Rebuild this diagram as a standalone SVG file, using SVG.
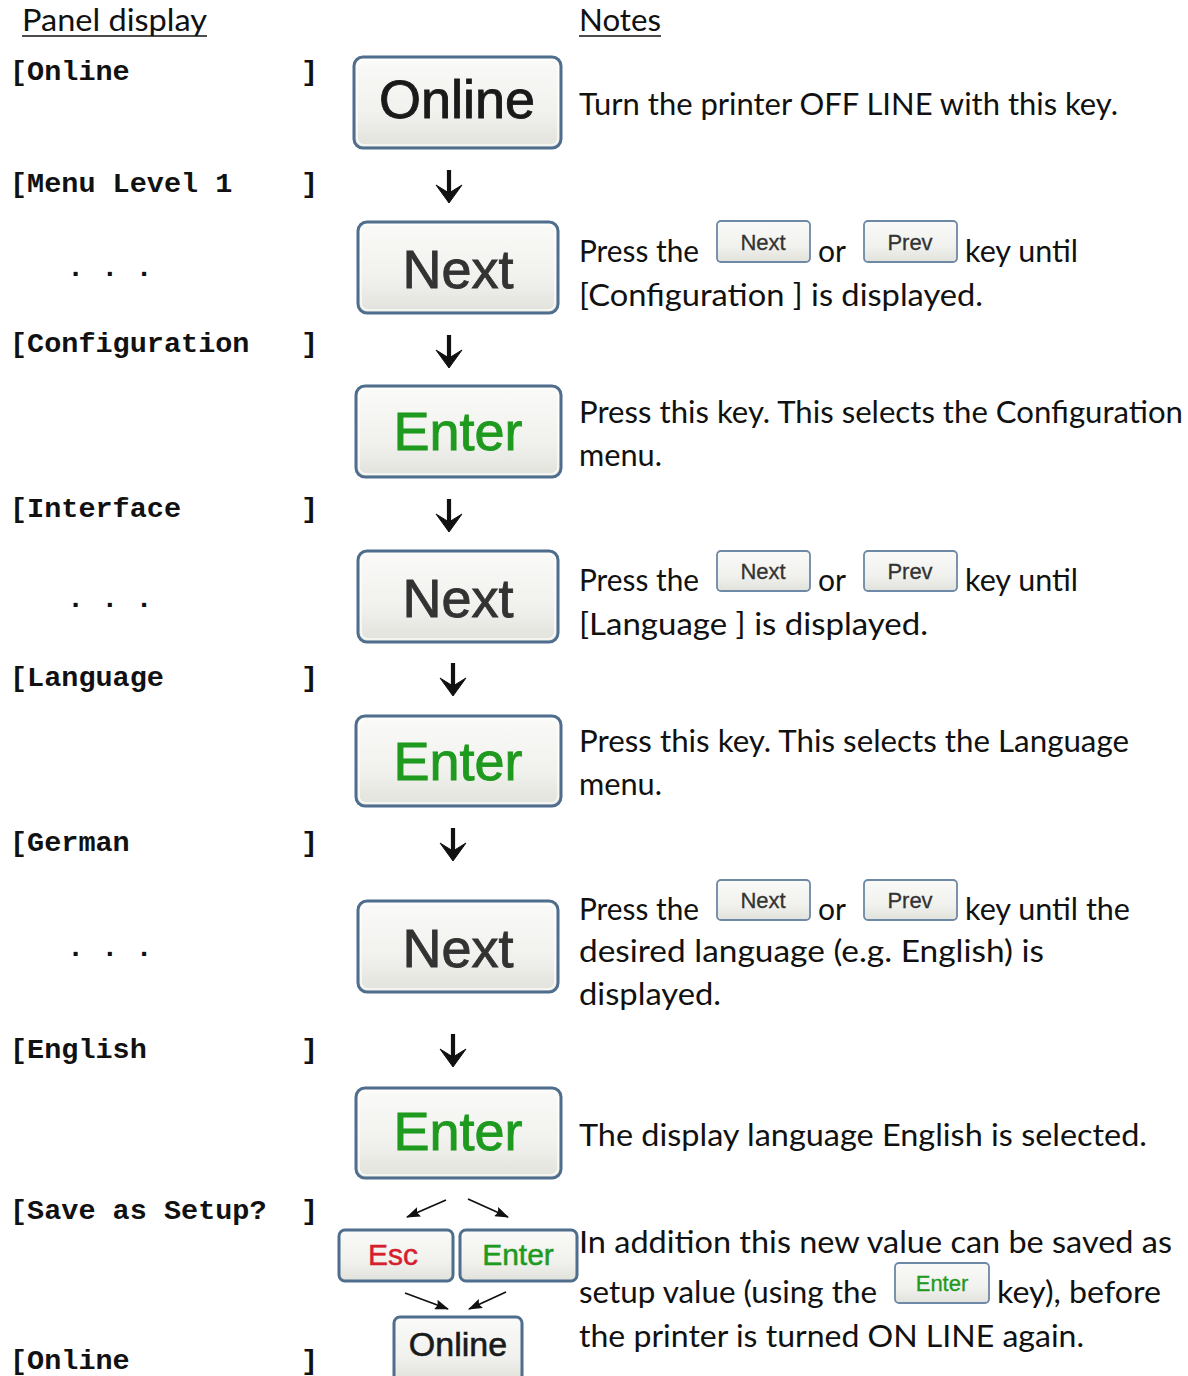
<svg xmlns="http://www.w3.org/2000/svg" xmlns:xlink="http://www.w3.org/1999/xlink" width="1188" height="1376" viewBox="0 0 1188 1376">
<style>
.mono{font-family:"Liberation Mono","Courier New",monospace;font-weight:bold;font-size:28.5px;fill:#111}
.note{font-family:Lato,"Open Sans","Liberation Sans",sans-serif;font-size:31px;fill:#111}
.head{font-family:Lato,"Open Sans","Liberation Sans",sans-serif;font-size:30px;fill:#111}
.btn{fill:url(#bg);stroke:#4f6d8c;stroke-width:3}
.btnin{fill:none;stroke:#ffffff;stroke-width:1.5;opacity:0.8}
.bt{font-family:"Liberation Sans",Arial,sans-serif;text-anchor:middle}
.big{font-size:54px;stroke-width:0.9}
.blk{fill:#1a1a1a;stroke:#1a1a1a}
.gry{fill:#333333;stroke:#333333}
.grn{fill:#1e9a1e;stroke:#1e9a1e}
.red{fill:#d61f2e;stroke:#d61f2e}
.sk{fill:url(#bg);stroke:#6d89a6;stroke-width:1.8}
.skt{font-size:22px;stroke-width:0.3}
.diag{stroke:#111;stroke-width:1.8;fill:none;marker-end:url(#ah)}
</style>
<defs>
<linearGradient id="bg" x1="0" y1="0" x2="0" y2="1">
<stop offset="0" stop-color="#fafaf8"/>
<stop offset="0.6" stop-color="#f1f1ee"/>
<stop offset="1" stop-color="#e2e2dc"/>
</linearGradient>
<marker id="ah" viewBox="0 0 14 10" refX="13" refY="5" markerWidth="14" markerHeight="10" orient="auto" markerUnits="userSpaceOnUse">
<path d="M0,0 L14,5 L0,10 L2,5 Z" fill="#111"/>
</marker>
<g id="down">
<line x1="0" y1="0" x2="0" y2="28" stroke="#111" stroke-width="4.2"/>
<path d="M-13,15 L0,33 L13,15 L0,23 Z" fill="#111" stroke="#111" stroke-width="1" stroke-linejoin="round"/>
</g>
</defs>
<rect width="1188" height="1376" fill="#ffffff"/>

<g id="headers">
<text class="head" x="22" y="31" textLength="185" lengthAdjust="spacingAndGlyphs">Panel display</text>
<line x1="22" y1="36" x2="207" y2="36" stroke="#111" stroke-width="1.6"/>
<text class="head" x="579" y="31" textLength="82" lengthAdjust="spacingAndGlyphs">Notes</text>
<line x1="579" y1="36" x2="661" y2="36" stroke="#111" stroke-width="1.6"/>
</g>

<g id="panel-display">
<text class="mono" x="10" y="80">[Online<tspan x="301">]</tspan></text>
<text class="mono" x="10" y="192">[Menu Level 1<tspan x="301">]</tspan></text>
<text class="mono" x="67" y="276">. . .</text>
<text class="mono" x="10" y="352">[Configuration<tspan x="301">]</tspan></text>
<text class="mono" x="10" y="517">[Interface<tspan x="301">]</tspan></text>
<text class="mono" x="67" y="607">. . .</text>
<text class="mono" x="10" y="686">[Language<tspan x="301">]</tspan></text>
<text class="mono" x="10" y="851">[German<tspan x="301">]</tspan></text>
<text class="mono" x="67" y="956">. . .</text>
<text class="mono" x="10" y="1058">[English<tspan x="301">]</tspan></text>
<text class="mono" x="10" y="1219">[Save as Setup?<tspan x="301">]</tspan></text>
<text class="mono" x="10" y="1369">[Online<tspan x="301">]</tspan></text>
</g>

<g id="key-online-1">
<rect class="btn" x="354" y="57" width="207" height="91" rx="9"/>
<rect class="btnin" x="357" y="60" width="201" height="85" rx="7"/>
<text class="bt big blk" x="457" y="118">Online</text>
</g>
<g id="key-next-1">
<rect class="btn" x="358" y="222" width="200" height="91" rx="9"/>
<rect class="btnin" x="361" y="225" width="194" height="85" rx="7"/>
<text class="bt big gry" x="458" y="288">Next</text>
</g>
<g id="key-enter-1">
<rect class="btn" x="356" y="386" width="205" height="91" rx="9"/>
<rect class="btnin" x="359" y="389" width="199" height="85" rx="7"/>
<text class="bt big grn" x="458" y="450">Enter</text>
</g>
<g id="key-next-2">
<rect class="btn" x="358" y="551" width="200" height="91" rx="9"/>
<rect class="btnin" x="361" y="554" width="194" height="85" rx="7"/>
<text class="bt big gry" x="458" y="617">Next</text>
</g>
<g id="key-enter-2">
<rect class="btn" x="356" y="716" width="205" height="90" rx="9"/>
<rect class="btnin" x="359" y="719" width="199" height="84" rx="7"/>
<text class="bt big grn" x="458" y="780">Enter</text>
</g>
<g id="key-next-3">
<rect class="btn" x="358" y="901" width="200" height="91" rx="9"/>
<rect class="btnin" x="361" y="904" width="194" height="85" rx="7"/>
<text class="bt big gry" x="458" y="967">Next</text>
</g>
<g id="key-enter-3">
<rect class="btn" x="356" y="1088" width="205" height="90" rx="9"/>
<rect class="btnin" x="359" y="1091" width="199" height="84" rx="7"/>
<text class="bt big grn" x="458" y="1150">Enter</text>
</g>
<g id="key-esc">
<rect class="btn" x="339" y="1230" width="114" height="51" rx="6" stroke-width="2.2"/>
<text class="bt red" x="393" y="1265" font-size="30" stroke-width="0.5">Esc</text>
</g>
<g id="key-enter-4">
<rect class="btn" x="460" y="1230" width="117" height="51" rx="6" stroke-width="2.2"/>
<text class="bt grn" x="518" y="1265" font-size="30" stroke-width="0.5">Enter</text>
</g>
<g id="key-online-2">
<rect class="btn" x="394" y="1317" width="128" height="64" rx="6" stroke-width="2.2"/>
<text class="bt blk" x="458" y="1356" font-size="34" stroke-width="0.6">Online</text>
</g>

<g id="connectors">
<use xlink:href="#down" href="#down" x="449" y="170"/>
<use xlink:href="#down" href="#down" x="449" y="335"/>
<use xlink:href="#down" href="#down" x="449" y="499"/>
<use xlink:href="#down" href="#down" x="453" y="663"/>
<use xlink:href="#down" href="#down" x="453" y="828"/>
<use xlink:href="#down" href="#down" x="453" y="1034"/>
<line class="diag" x1="446" y1="1200" x2="407" y2="1217"/>
<line class="diag" x1="468" y1="1199" x2="508" y2="1217"/>
<line class="diag" x1="405" y1="1293" x2="448" y2="1309"/>
<line class="diag" x1="506" y1="1292" x2="469" y2="1309"/>
</g>

<g id="notes">
<text class="note" x="579" y="115" textLength="539" lengthAdjust="spacingAndGlyphs">Turn the printer OFF LINE with this key.</text>

<text class="note" x="579" y="262" textLength="120" lengthAdjust="spacingAndGlyphs">Press the</text>
<text class="note" x="818" y="262" textLength="28" lengthAdjust="spacingAndGlyphs">or</text>
<text class="note" x="965" y="262" textLength="113" lengthAdjust="spacingAndGlyphs">key until</text>
<text class="note" x="579" y="306" textLength="404" lengthAdjust="spacingAndGlyphs">[Configuration ] is displayed.</text>

<text class="note" x="579" y="423" textLength="604" lengthAdjust="spacingAndGlyphs">Press this key. This selects the Configuration</text>
<text class="note" x="579" y="466" textLength="83" lengthAdjust="spacingAndGlyphs">menu.</text>

<text class="note" x="579" y="591" textLength="120" lengthAdjust="spacingAndGlyphs">Press the</text>
<text class="note" x="818" y="591" textLength="28" lengthAdjust="spacingAndGlyphs">or</text>
<text class="note" x="965" y="591" textLength="113" lengthAdjust="spacingAndGlyphs">key until</text>
<text class="note" x="579" y="635" textLength="349" lengthAdjust="spacingAndGlyphs">[Language ] is displayed.</text>

<text class="note" x="579" y="752" textLength="550" lengthAdjust="spacingAndGlyphs">Press this key. This selects the Language</text>
<text class="note" x="579" y="795" textLength="83" lengthAdjust="spacingAndGlyphs">menu.</text>

<text class="note" x="579" y="920" textLength="120" lengthAdjust="spacingAndGlyphs">Press the</text>
<text class="note" x="818" y="920" textLength="28" lengthAdjust="spacingAndGlyphs">or</text>
<text class="note" x="965" y="920" textLength="165" lengthAdjust="spacingAndGlyphs">key until the</text>
<text class="note" x="579" y="962" textLength="465" lengthAdjust="spacingAndGlyphs">desired language (e.g. English) is</text>
<text class="note" x="579" y="1005" textLength="142" lengthAdjust="spacingAndGlyphs">displayed.</text>

<text class="note" x="579" y="1146" textLength="568" lengthAdjust="spacingAndGlyphs">The display language English is selected.</text>

<text class="note" x="579" y="1253" textLength="593" lengthAdjust="spacingAndGlyphs">In addition this new value can be saved as</text>
<text class="note" x="579" y="1303" textLength="298" lengthAdjust="spacingAndGlyphs">setup value (using the</text>
<text class="note" x="997" y="1303" textLength="164" lengthAdjust="spacingAndGlyphs">key), before</text>
<text class="note" x="579" y="1347" textLength="505" lengthAdjust="spacingAndGlyphs">the printer is turned ON LINE again.</text>
</g>

<g id="inline-keys">
<g id="ik-next-1"><rect class="sk" x="717" y="221" width="93" height="41" rx="4"/><text class="bt skt gry" x="763" y="250">Next</text></g>
<g id="ik-prev-1"><rect class="sk" x="864" y="221" width="93" height="41" rx="4"/><text class="bt skt gry" x="910" y="250">Prev</text></g>
<g id="ik-next-2"><rect class="sk" x="717" y="551" width="93" height="40" rx="4"/><text class="bt skt gry" x="763" y="579">Next</text></g>
<g id="ik-prev-2"><rect class="sk" x="864" y="551" width="93" height="40" rx="4"/><text class="bt skt gry" x="910" y="579">Prev</text></g>
<g id="ik-next-3"><rect class="sk" x="717" y="880" width="93" height="40" rx="4"/><text class="bt skt gry" x="763" y="908">Next</text></g>
<g id="ik-prev-3"><rect class="sk" x="864" y="880" width="93" height="40" rx="4"/><text class="bt skt gry" x="910" y="908">Prev</text></g>
<g id="ik-enter"><rect class="sk" x="895" y="1263" width="94" height="40" rx="4"/><text class="bt skt grn" x="942" y="1291">Enter</text></g>
</g>
</svg>
